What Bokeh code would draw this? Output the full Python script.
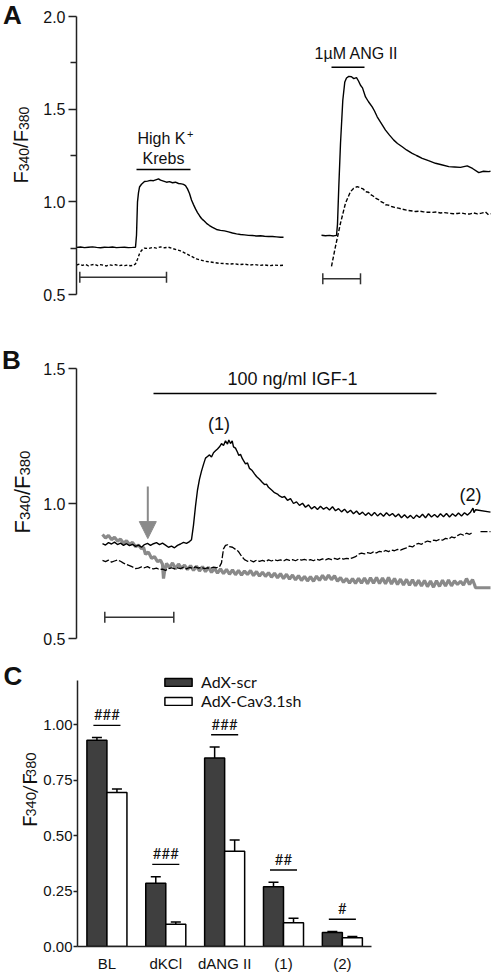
import math
import numpy as np
from bokeh.plotting import figure
from bokeh.layouts import column, row
from bokeh.models import (Range1d, Label, Arrow, NormalHead, Whisker, TeeHead, FixedTicker,
                          PrintfTickFormatter, Legend, LegendItem, ColumnDataSource)
from bokeh.embed import file_html
from bokeh.resources import INLINE
from bokeh.core.properties import value

ARIAL = "Liberation Sans"
CAL = "Lato"

# ---------------- DATA ----------------
# Panel A: (time, F340/F380)
A_scr_kcl = [(0,0.754),(4,0.756),(8,0.753),(12,0.755),(16,0.757),(20,0.754),(24,0.752),(28,0.755),
             (32,0.754),(36,0.756),(40,0.753),(44,0.754),(48,0.755),(52,0.753),(56,0.754),(59,0.755),
             (60,0.82),(61,1.00),(62,1.05),(63,1.08),(65,1.095),(68,1.11),(71,1.112),(74,1.116),
             (77,1.114),(80,1.12),(82,1.124),(84,1.117),(87,1.112),(90,1.106),(93,1.109),(96,1.103),
             (99,1.106),(102,1.099),(105,1.097),(107,1.094),(109,1.088),(111,1.07),(113,1.045),
             (115,1.01),(117,0.985),(119,0.962),(121,0.942),(123,0.925),(125,0.91),(127,0.9),
             (130,0.884),(133,0.872),(136,0.862),(140,0.851),(144,0.846),(148,0.843),(152,0.838),
             (156,0.832),(160,0.827),(164,0.824),(168,0.822),(172,0.819),(176,0.818),(180,0.816),
             (184,0.817),(188,0.814),(192,0.813),(196,0.813),(200,0.811),(204,0.809),(207,0.809)]
A_cav_kcl = [(0,0.659),(3,0.664),(6,0.657),(9,0.662),(12,0.655),(15,0.66),(18,0.663),(21,0.656),
             (24,0.661),(27,0.658),(30,0.654),(33,0.66),(36,0.657),(39,0.661),(42,0.655),(45,0.658),
             (48,0.656),(51,0.659),(54,0.655),(57,0.657),(59,0.665),(61,0.69),(63,0.72),(65,0.738),
             (68,0.75),(72,0.748),(76,0.754),(80,0.75),(84,0.757),(88,0.752),(92,0.755),(96,0.748),
             (100,0.742),(104,0.735),(108,0.725),(112,0.714),(116,0.703),(120,0.692),(124,0.686),
             (128,0.68),(133,0.676),(138,0.672),(143,0.668),(148,0.667),(153,0.664),(158,0.666),
             (163,0.661),(168,0.664),(173,0.659),(178,0.662),(183,0.657),(188,0.66),(193,0.655),
             (198,0.659),(203,0.656),(207,0.658)]
A_scr_ang = [(245,0.82),(249,0.817),(253,0.819),(257,0.816),(260,0.819),(261,0.88),(262.3,1.082),
             (264,1.315),(266.3,1.548),(268.3,1.647),(270,1.668),(272.3,1.677),(275,1.675),
             (277.3,1.665),(280,1.67),(282,1.652),(284,1.629),(286,1.615),(289,1.566),(292,1.54),
             (295.7,1.512),(298,1.49),(300.7,1.459),(304,1.43),(309,1.387),(313,1.36),(317.3,1.333),
             (321,1.315),(325.7,1.297),(330,1.28),(335.7,1.262),(340,1.25),(345.7,1.235),(352,1.222),
             (359,1.208),(365,1.2),(372.3,1.19),(378,1.188),(384,1.186),(390.7,1.194),(396,1.18),
             (402.3,1.158),(407,1.165),(412.3,1.163),(414,1.165)]
A_cav_ang = [(255,0.652),(259,0.76),(264,0.885),(269,0.993),(274,1.055),(277,1.072),(280.7,1.082),
             (284,1.075),(287,1.068),(289,1.055),(292,1.052),(294,1.04),(297,1.03),(299,1.02),
             (302,1.012),(304,1.003),(307,0.995),(309,0.984),(312,0.982),(315,0.975),(318,0.97),
             (322,0.966),(326,0.96),(330,0.955),(334,0.952),(339,0.948),(343,0.95),(347,0.946),
             (351,0.944),(356,0.943),(360,0.945),(364,0.94),(368,0.942),(372,0.939),(377,0.936),
             (381,0.937),(385,0.94),(389,0.935),(393,0.934),(397,0.94),(401,0.935),(405,0.939),
             (409,0.945),(412,0.93),(414,0.936)]
A_stim_kcl = [60, 114]
A_stim_ang = [255, 288]
A_scale_kcl = [3.3, 90.0]
A_scale_ang = [246.3, 284.0]
A_ticks = [0.5, 1.0, 1.5, 2.0]
A_minor = [0.75, 1.25, 1.75]

# Panel B
B_scr = [(26,0.851),(29,0.846),(32,0.855),(35,0.85),(38,0.857),(41,0.848),(44,0.853),(47,0.845),
         (50,0.851),(53,0.844),(56,0.849),(59,0.841),(62,0.846),(65,0.838),(68,0.848),(71,0.852),
         (74,0.845),(77,0.851),(80,0.855),(83,0.848),(86,0.853),(89,0.846),(92,0.838),(95,0.842),
         (98,0.836),(101,0.845),(104,0.85),(107,0.856),(110,0.852),(113,0.859),(115,0.866),(117,0.92),
         (119,0.99),(121,1.05),(123,1.09),(125,1.12),(127,1.145),(129,1.168),(131,1.174),(133,1.18),
         (135,1.172),(137,1.188),(139,1.195),(141,1.202),(143,1.21),(145,1.222),(147,1.215),
         (149,1.232),(151,1.22),(152.3,1.235),(154,1.222),(155.7,1.232),(157,1.21),(159,1.205),
         (161,1.19),(162.3,1.178),(164,1.182),(166,1.165),(169,1.147),(171,1.15),(173,1.13),
         (175.7,1.122),(178,1.11),(180,1.1),(183,1.09),(185.7,1.079),(188,1.07),(190,1.072),
         (192,1.06),(195.7,1.048),(198,1.04),(201,1.035),(203,1.028),(205.7,1.023),(208,1.026),
         (211,1.012),(214,1.018),(217,1.0),(220,1.006),(223,0.993),(226,1.001),(229,0.986),
         (232,0.995),(235,0.98),(238,0.989),(241,0.978),(244,0.99),(247,0.979),(250,0.986),
         (253,0.976),(256,0.988),(259,0.973),(262,0.981),(265,0.969),(268,0.979),(271,0.966),
         (274,0.975),(277,0.962),(280,0.972),(283,0.959),(286,0.968),(289,0.956),(292,0.966),
         (295,0.955),(298,0.967),(301,0.954),(304,0.964),(307,0.953),(310,0.966),(313,0.955),
         (316,0.963),(319,0.951),(322,0.961),(325,0.947),(328,0.958),(331,0.946),(334,0.956),
         (337,0.944),(340,0.957),(343,0.948),(346,0.96),(349,0.947),(352,0.962),(355,0.95),
         (358,0.959),(361,0.949),(364,0.962),(367,0.951),(370,0.963),(373,0.95),(376,0.962),
         (379,0.953),(382,0.965),(385,0.954),(388,0.966),(391,0.957),(394,0.968),(396.5,0.983),
         (397.5,0.966),(399,0.977),(414,0.968)]
B_cav = [(26,0.789),(29,0.785),(32,0.79),(35,0.783),(38,0.787),(41,0.791),(44,0.786),(47,0.779),
         (50,0.774),(53,0.77),(56,0.765),(59,0.759),(62,0.761),(65,0.765),(68,0.762),(71,0.766),
         (74,0.76),(77,0.758),(80,0.761),(83,0.755),(86,0.757),(89,0.752),(92,0.759),(95,0.762),
         (98,0.758),(101,0.762),(104,0.759),(107,0.764),(110,0.758),(113,0.763),(116,0.76),
         (119,0.765),(122,0.761),(125,0.764),(128,0.759),(131,0.762),(134,0.76),(137,0.764),
         (140,0.762),(143,0.766),(145,0.78),(147,0.832),(149,0.845),(151,0.847),(153,0.84),
         (156,0.838),(159,0.83),(162,0.822),(165,0.805),(168,0.792),(171,0.786),(174,0.789),
         (177,0.784),(180,0.79),(183,0.786),(186,0.789),(189,0.785),(192,0.791),(195,0.787),
         (198,0.792),(201,0.788),(204,0.791),(207,0.787),(210,0.793),(213,0.789),(216,0.792),
         (219,0.788),(222,0.794),(225,0.79),(228,0.793),(231,0.789),(234,0.792),(237,0.788),
         (240,0.794),(243,0.79),(246,0.795),(249,0.791),(252,0.796),(255,0.792),(258,0.797),
         (261,0.793),(264,0.798),(267,0.794),(270,0.797),(273,0.795),(276,0.799),(279,0.803),
         (282,0.812),(285,0.816),(288,0.813),(291,0.818),(294,0.815),(297,0.821),(300,0.817),
         (303,0.823),(306,0.82),(309,0.826),(312,0.822),(315,0.828),(318,0.825),(321,0.83),
         (324,0.827),(327,0.832),(330,0.836),(333,0.842),(336,0.839),(339,0.848),(342,0.852),
         (345,0.849),(348,0.856),(351,0.861),(354,0.858),(357,0.864),(360,0.862),(363,0.867),
         (366,0.864),(369,0.871),(372,0.868),(375,0.876),(378,0.873),(381,0.881),(384,0.887),
         (387,0.883),(390,0.89),(393,0.886),(396,0.892),(400,float("nan")),(404,0.896),(414,0.896)]
B_ctrl = [(26,0.885),(29,0.872),(32,0.882),(35,0.866),(38,0.875),(41,0.861),(44,0.868),(47,0.853),
          (50,0.862),(53,0.848),(56,0.856),(59,0.84),(62,0.846),(65,0.832),(67,0.838),(69,0.812),
          (72,0.82),(75,0.797),(78,0.803),(81,0.785),(84,0.79),(86,0.775),(87,0.722),(88,0.748),
          (90,0.778),(93,0.762),(96,0.78),(99,0.758),(102,0.776),(105,0.76),(108,0.772),(111,0.755),
          (114,0.77),(117,0.752),(120,0.768),(123,0.75),(126,0.766),(129,0.748),(132,0.764),
          (135,0.745),(138,0.76),(141,0.742),(144,0.758),(147,0.74),(150,0.756),(153,0.738),
          (156,0.754),(159,0.736),(162,0.752),(165,0.735),(168,0.75),(171,0.737),(174,0.752),
          (177,0.733),(180,0.748),(183,0.731),(186,0.746),(189,0.73),(192,0.744),(195,0.727),
          (198,0.742),(201,0.725),(204,0.74),(207,0.722),(210,0.738),(213,0.72),(216,0.735),
          (219,0.717),(222,0.733),(225,0.715),(228,0.73),(231,0.713),(234,0.729),(237,0.712),
          (240,0.731),(243,0.715),(246,0.734),(249,0.717),(252,0.735),(255,0.718),(258,0.732),
          (261,0.712),(264,0.726),(267,0.708),(270,0.722),(273,0.705),(276,0.722),(279,0.704),
          (282,0.723),(285,0.705),(288,0.724),(291,0.703),(294,0.725),(297,0.705),(300,0.726),
          (303,0.704),(306,0.724),(309,0.703),(312,0.726),(315,0.702),(318,0.722),(321,0.7),
          (324,0.72),(327,0.698),(330,0.719),(333,0.697),(336,0.718),(339,0.695),(342,0.716),
          (345,0.694),(348,0.715),(351,0.692),(354,0.713),(357,0.69),(360,0.714),(363,0.693),
          (366,0.716),(369,0.694),(372,0.717),(375,0.695),(378,0.714),(381,0.7),(384,0.712),
          (387,0.698),(390,0.722),(393,0.7),(396,0.718),(398,0.7),(399,0.688),(414,0.688)]
B_igf = [77, 360]
B_arrow_t = 71.3
B_arrow_from, B_arrow_to = 1.063, 0.870
B_scale = [28.3, 97.3]
B_ticks = [0.5, 1.0, 1.5]

# Panel C
C_groups = ["BL", "dKCl", "dANG II", "(1)", "(2)"]
C_scr_mean = [0.93, 0.285, 0.85, 0.27, 0.063]
C_scr_sem = [0.012, 0.03, 0.05, 0.02, 0.005]
C_cav_mean = [0.695, 0.10, 0.43, 0.107, 0.04]
C_cav_sem = [0.015, 0.01, 0.05, 0.02, 0.005]
C_sig = ["###", "###", "###", "##", "#"]
C_ticks = [0.0, 0.25, 0.5, 0.75, 1.0]

# ---------------- helpers ----------------
W = 492
SIDE = 40          # narrow strip on the left for panel letters and y titles
MAIN = W - SIDE
FL = 76            # page x of the y axes
INK = "#111111"


def split(pairs):
    return [q[0] for q in pairs], [q[1] for q in pairs]


def make_fig(h, xr, yr, bottom=0, xaxis=False):
    kw = {} if xaxis else {"x_axis_location": None}
    p = figure(width=MAIN, height=h, x_range=xr, y_range=yr, toolbar_location=None,
               output_backend="svg", min_border_left=FL - SIDE, min_border_right=0,
               min_border_top=0, min_border_bottom=bottom, **kw)
    p.outline_line_color = None
    p.grid.visible = False
    return p


def side_fig(h):
    s = figure(width=SIDE, height=h, x_range=Range1d(0, SIDE), y_range=Range1d(h, 0),
               x_axis_location=None, y_axis_location=None, toolbar_location=None,
               output_backend="svg", min_border_left=0, min_border_right=0,
               min_border_top=0, min_border_bottom=0)
    s.outline_line_color = None
    s.grid.visible = False
    return s


def style_y(p, ticks, minor, bounds, fmt, size, tick_out, minor_out, standoff):
    ax = p.yaxis[0]
    ax.ticker = FixedTicker(ticks=ticks, minor_ticks=minor)
    ax.bounds = bounds
    ax.formatter = PrintfTickFormatter(format=fmt)
    ax.major_label_text_font = ARIAL
    ax.major_label_text_font_size = size
    ax.major_label_text_color = INK
    ax.major_tick_out = tick_out
    ax.major_tick_in = 0
    ax.minor_tick_out = minor_out
    ax.minor_tick_in = 0
    ax.major_label_standoff = standoff
    ax.axis_line_width = 1.5
    ax.axis_line_color = "#222222"
    ax.major_tick_line_width = 1.5
    ax.major_tick_line_color = "#222222"
    ax.minor_tick_line_width = 1.5
    ax.minor_tick_line_color = "#222222"


def label(p, x, y, text, size, font=ARIAL, align="center", baseline="middle", bold=False, angle=0):
    p.add_layout(Label(x=x, y=y, text=text, text_font=font, text_font_size=f"{size}px",
                       text_align=align, text_baseline=baseline, text_color=INK,
                       text_font_style="bold" if bold else "normal", angle=angle))


def rot_label(s, top, start_py, base_px, pieces, font):
    py = start_py
    for text, size, shift, adv in pieces:
        label(s, base_px + shift, py - top, text, size, font=font, align="left",
              baseline="alphabetic", angle=math.pi / 2)
        py -= adv


def scale_bar(p, span, level):
    src = ColumnDataSource(dict(base=[level], lower=[span[0]], upper=[span[1]]))
    p.add_layout(Whisker(source=src, base="base", lower="lower", upper="upper", dimension="width",
                         line_color="#333333", line_width=1.5,
                         lower_head=TeeHead(size=11, line_color="#333333", line_width=1.5),
                         upper_head=TeeHead(size=11, line_color="#333333", line_width=1.5)))


ax_ = lambda px: px - FL

# ---------------- Panel A (page y 0..318) ----------------
A_H = 318
ay_ = lambda py: 2.0 - (py - 16) * 1.5 / 278.0
pA = make_fig(A_H, Range1d(0, W - FL), Range1d(ay_(A_H), ay_(0)))
style_y(pA, A_ticks, A_minor, (0.5, 2.0), "%.1f", "16px", 8, 6, 3)

for pairs, dash in [(A_scr_kcl, "solid"), (A_cav_kcl, "3 2"), (A_scr_ang, "solid"), (A_cav_ang, "4 2")]:
    t, v = split(pairs)
    pA.line(t, v, line_color="black", line_width=1.4, line_dash=dash)

pA.segment(x0=[A_stim_kcl[0], A_stim_ang[0]], x1=[A_stim_kcl[1], A_stim_ang[1]],
           y0=[ay_(169), ay_(66.7)], y1=[ay_(169), ay_(66.7)], line_color="black", line_width=1.5)
scale_bar(pA, A_scale_kcl, ay_(276.7))
scale_bar(pA, A_scale_ang, ay_(278.3))

label(pA, ax_(137), ay_(137.5), "High K", 16, align="left")
label(pA, ax_(186.5), ay_(133), "+", 11, align="left")
label(pA, ax_(163), ay_(157.5), "Krebs", 16)
label(pA, ax_(356), ay_(52.5), "1\u00b5M ANG II", 16)

sA = side_fig(A_H)
label(sA, 12, 14, "A", 26, bold=True)
rot_label(sA, 0, 183, 20, [("F", 20, 0, 12.2), ("340", 14, 3, 23.4), ("/F", 20, 0, 17.8),
                           ("380", 14, 3, 23.4)], ARIAL)

# ---------------- Panel B (page y 318..654) ----------------
B_TOP, B_H = 318, 336
by_ = lambda py: 1.5 - (py - 368) / 270.0
pB = make_fig(B_H, Range1d(0, W - FL), Range1d(by_(B_TOP + B_H), by_(B_TOP)))
style_y(pB, B_ticks, [], (0.5, 1.5), "%.1f", "16px", 8, 0, 3)

t, v = split(B_ctrl)
pB.line(t, v, line_color="#8a8a8a", line_width=3.2)
t, v = split(B_cav)
pB.line(t, v, line_color="black", line_width=1.3, line_dash="7 2")
t, v = split(B_scr)
pB.line(t, v, line_color="black", line_width=1.4)

pB.segment(x0=[B_igf[0]], x1=[B_igf[1]], y0=[by_(393)], y1=[by_(393)], line_color="black", line_width=1.5)
scale_bar(pB, B_scale, by_(616.7))
pB.add_layout(Arrow(x_start=B_arrow_t, y_start=B_arrow_from, x_end=B_arrow_t, y_end=B_arrow_to,
                    line_color="#8a8a8a", line_width=2,
                    end=NormalHead(size=17, fill_color="#8a8a8a", line_color="#8a8a8a")))

label(pB, ax_(292), by_(378.5), "100 ng/ml IGF-1", 18)
label(pB, ax_(218.5), by_(423.5), "(1)", 18)
label(pB, ax_(470), by_(494), "(2)", 18)

sB = side_fig(B_H)
label(sB, 11, 359 - B_TOP, "B", 26, bold=True)
rot_label(sB, B_TOP, 533, 21.5, [("F", 22, 0, 13.4), ("340", 15, 3, 25.0), ("/F", 22, 0, 19.5),
                                 ("380", 15, 3, 25.0)], ARIAL)

# ---------------- Panel C (page y 654..974) ----------------
C_TOP, C_H = 654, 320
C_BOT = 27
cy_ = lambda py: (947 - py) / 222.5
idx = np.arange(len(C_groups))
x_end = -0.5 + (W - FL) / 59.0
pC = make_fig(C_H, Range1d(-0.5, x_end), Range1d(0, cy_(C_TOP)), bottom=C_BOT, xaxis=True)
style_y(pC, C_ticks, [], (0, 1.2), "%.2f", "15px", 4, 0, 1)
xa = pC.xaxis[0]
xa.ticker = FixedTicker(ticks=list(idx))
xa.bounds = (-0.5, len(C_groups) - 0.5)
xa.major_label_overrides = {int(i): g for i, g in zip(idx, C_groups)}
xa.major_tick_out = 0
xa.major_tick_in = 0
xa.minor_tick_out = 0
xa.major_label_standoff = 8
xa.major_label_text_font = ARIAL
xa.major_label_text_font_size = "15px"
xa.major_label_text_color = INK
xa.axis_line_width = 1.5
xa.axis_line_color = "#222222"

bw = 0.34
scr_x = idx - bw / 2
cav_x = idx + bw / 2
r_scr = pC.vbar(x=scr_x, top=C_scr_mean, width=bw, fill_color="#3f3f3f", line_color="black", line_width=1.5)
r_cav = pC.vbar(x=cav_x, top=C_cav_mean, width=bw, fill_color="white", line_color="black", line_width=1.5)
for xs, m, e in [(scr_x, C_scr_mean, C_scr_sem), (cav_x, C_cav_mean, C_cav_sem)]:
    m = np.array(m); e = np.array(e)
    src = ColumnDataSource(dict(base=xs, upper=m + e, lower=m - e))
    pC.add_layout(Whisker(source=src, base="base", upper="upper", lower="lower", line_color="black",
                          line_width=1.5,
                          upper_head=TeeHead(size=10, line_color="black", line_width=1.5),
                          lower_head=TeeHead(size=10, line_color="black", line_width=1.5)))

top_err = np.maximum(np.array(C_scr_mean) + np.array(C_scr_sem), np.array(C_cav_mean) + np.array(C_cav_sem))
sig_y = top_err + 0.055
pC.segment(x0=idx - 0.23, x1=idx + 0.23, y0=sig_y, y1=sig_y, line_color="black", line_width=1.3)
pC.text(x=idx, y=sig_y + 0.05, text=C_sig, text_align="center", text_baseline="middle",
        text_font=value(CAL), text_font_size="15px", text_color=INK)

legend = Legend(items=[LegendItem(label="AdX-scr", renderers=[r_scr]),
                       LegendItem(label="AdX-Cav3.1sh", renderers=[r_cav])],
                location=(84, 236), orientation="vertical", glyph_width=34, glyph_height=10,
                label_standoff=6, label_text_font=CAL, label_text_font_size="16px",
                label_text_color=INK, label_height=16, padding=0, margin=0, spacing=-5,
                border_line_color=None, background_fill_alpha=0)
pC.add_layout(legend)

sC = side_fig(C_H)
label(sC, 12.5, 678 - C_TOP, "C", 26, bold=True)
rot_label(sC, C_TOP, 843, 28.5, [("F", 20, 0, 11.4), ("340", 14, 2, 25.0), ("/F", 20, 0, 18.4),
                                 ("380", 14, 2, 25.0)], CAL)

rows = []
for s, p in [(sA, pA), (sB, pB), (sC, pC)]:
    r = row(s, p)
    r.spacing = 0
    rows.append(r)
layout = column(*rows)
layout.spacing = 0

open("out.html", "w").write(file_html(layout, INLINE))
